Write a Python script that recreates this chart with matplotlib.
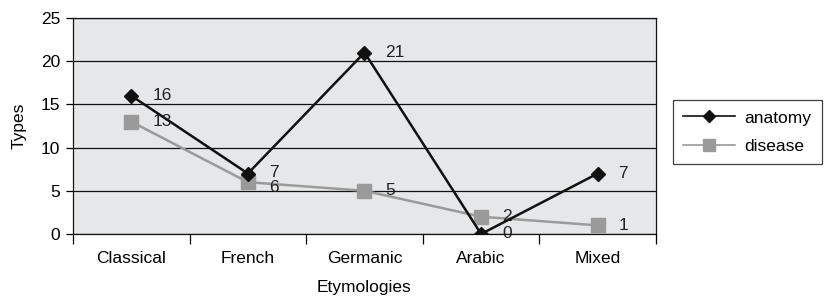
import numpy as np
import matplotlib
matplotlib.use('Agg')
import matplotlib.pyplot as plt

plt.rcParams['font.family'] = ['Liberation Sans', 'DejaVu Sans']

categories = ['Classical', 'French', 'Germanic', 'Arabic', 'Mixed']
anatomy = [16, 7, 21, 0, 7]
disease = [13, 6, 5, 2, 1]
y_ticks = [0, 5, 10, 15, 20, 25]

FS = 12.5
fig = plt.figure(figsize=(8.28, 2.97), dpi=100)
ax = fig.add_axes([73 / 828, 1 - 234 / 297, 583 / 828, 216 / 297])
ax.set_facecolor('#e6e7e8')

x = np.arange(len(categories))
ax.plot(x, anatomy, color='#111111', lw=1.8, marker='D', ms=7.5,
        mfc='#111111', mec='#111111', label='anatomy', zorder=4)
ax.plot(x, disease, color='#9a9a9a', lw=1.8, marker='s', ms=9.5,
        mfc='#9a9a9a', mec='#9a9a9a', label='disease', zorder=3)

# value labels to the right of each point
for xi, v in zip(x, anatomy):
    dy = 1 if xi == 1 else 0
    ax.annotate(str(v), (xi, v), xytext=(15, dy), textcoords='offset points',
                va='center', ha='left', fontsize=FS, color='#222222')
for xi, v in zip(x, disease):
    dy = -4 if xi == 1 else 0
    ax.annotate(str(v), (xi, v), xytext=(15, dy), textcoords='offset points',
                va='center', ha='left', fontsize=FS, color='#222222')

ax.set_xlim(-0.5, len(categories) - 0.5)
ax.set_ylim(0, 25)
ax.set_yticks(y_ticks)
ax.yaxis.grid(True, color='#111111', lw=0.9)
ax.set_axisbelow(True)

ax.set_xticks(x)
ax.set_xticklabels(categories, fontsize=FS)
ax.tick_params(axis='x', which='major', length=0, pad=12)
ax.set_xticks(np.arange(-0.5, len(categories), 1.0), minor=True)
ax.tick_params(axis='x', which='minor', length=7, width=0.9, direction='out')
ax.tick_params(axis='y', length=5, width=0.9, labelsize=FS, pad=4)

for s in ax.spines.values():
    s.set_color('#111111')
    s.set_linewidth(0.9)

ax.set_ylabel('Types', fontsize=FS, labelpad=10)
ax.set_xlabel('Etymologies', fontsize=FS, labelpad=10)

leg = fig.legend(loc='upper left', bbox_to_anchor=(673 / 828, 1 - 100 / 297),
                 frameon=True, fancybox=False, edgecolor='#111111',
                 handlelength=3.0, fontsize=FS, borderpad=0.6,
                 labelspacing=0.75, handletextpad=0.5, borderaxespad=0,
                 markerscale=0.85)
leg.get_frame().set_linewidth(0.9)
for h in leg.get_lines():
    h.set_linewidth(1.2)

fig.savefig('out.png', dpi=100, facecolor='white')
